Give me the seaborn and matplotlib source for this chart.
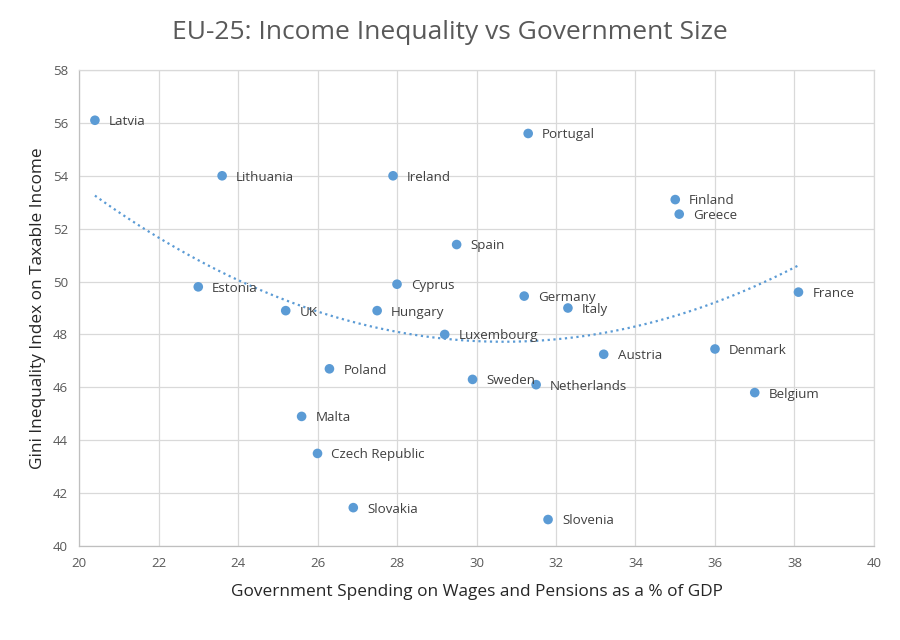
import matplotlib
matplotlib.use("Agg")
import matplotlib.pyplot as plt
import seaborn as sns
import pandas as pd

countries = ["Latvia", "Lithuania", "Ireland", "Portugal", "Finland", "Greece", "Spain",
             "Estonia", "Cyprus", "Germany", "Italy", "France", "UK", "Hungary",
             "Luxembourg", "Austria", "Denmark", "Poland", "Sweden", "Netherlands",
             "Belgium", "Malta", "Czech Republic", "Slovakia", "Slovenia"]
spending = [20.4, 23.6, 27.9, 31.3, 35.0, 35.1, 29.5,
            23.0, 28.0, 31.2, 32.3, 38.1, 25.2, 27.5,
            29.2, 33.2, 36.0, 26.3, 29.9, 31.5,
            37.0, 25.6, 26.0, 26.9, 31.8]
gini = [56.1, 54.0, 54.0, 55.6, 53.1, 52.55, 51.4,
        49.8, 49.9, 49.45, 49.0, 49.6, 48.9, 48.9,
        48.0, 47.25, 47.45, 46.7, 46.3, 46.1,
        45.8, 44.9, 43.5, 41.45, 41.0]

df = pd.DataFrame({"country": countries, "spending": spending, "gini": gini})

sns.set_theme(style="white")
plt.rcParams["font.family"] = ["Open Sans", "DejaVu Sans"]

blue = "#5b9bd5"
grid_c = "#d9d9d9"

fig = plt.figure(figsize=(9, 6.4), dpi=100)
ax = fig.add_axes([0.0878, 0.1469, 0.8833, 0.7437])

sns.regplot(data=df, x="spending", y="gini", order=2, ci=None, scatter=False, ax=ax,
            line_kws=dict(color=blue, lw=1.6, ls=(0, (1, 1.6))))
sns.scatterplot(data=df, x="spending", y="gini", ax=ax, color=blue, s=48,
                edgecolor="none", zorder=3)

for c, x, y in zip(countries, spending, gini):
    ax.annotate(c, (x, y), xytext=(10, -1), textcoords="offset points",
                va="center", ha="left", fontsize=9.6, color="#404040", zorder=4)

ax.set_xlim(20, 40)
ax.set_ylim(40, 58)
ax.set_xticks(range(20, 41, 2))
ax.set_yticks(range(40, 59, 2))
ax.grid(True, color=grid_c, lw=0.9)
ax.set_axisbelow(True)
for sp in ax.spines.values():
    sp.set_color(grid_c)
    sp.set_linewidth(0.9)
ax.spines["left"].set_color("#bfbfbf")
ax.spines["bottom"].set_color("#bfbfbf")
ax.tick_params(axis="both", labelsize=9.5, colors="#595959", length=0, pad=8)

ax.set_xlabel("Government Spending on Wages and Pensions as a % of GDP",
              fontsize=12.4, color="#262626", labelpad=10)
ax.set_ylabel("Gini Inequality Index on Taxable Income",
              fontsize=12.4, color="#262626", labelpad=5)

fig.text(0.5, 0.949, "EU-25: Income Inequality vs Government Size",
         ha="center", va="center", fontsize=19, color="#595959")

fig.savefig("out.png", dpi=100)
